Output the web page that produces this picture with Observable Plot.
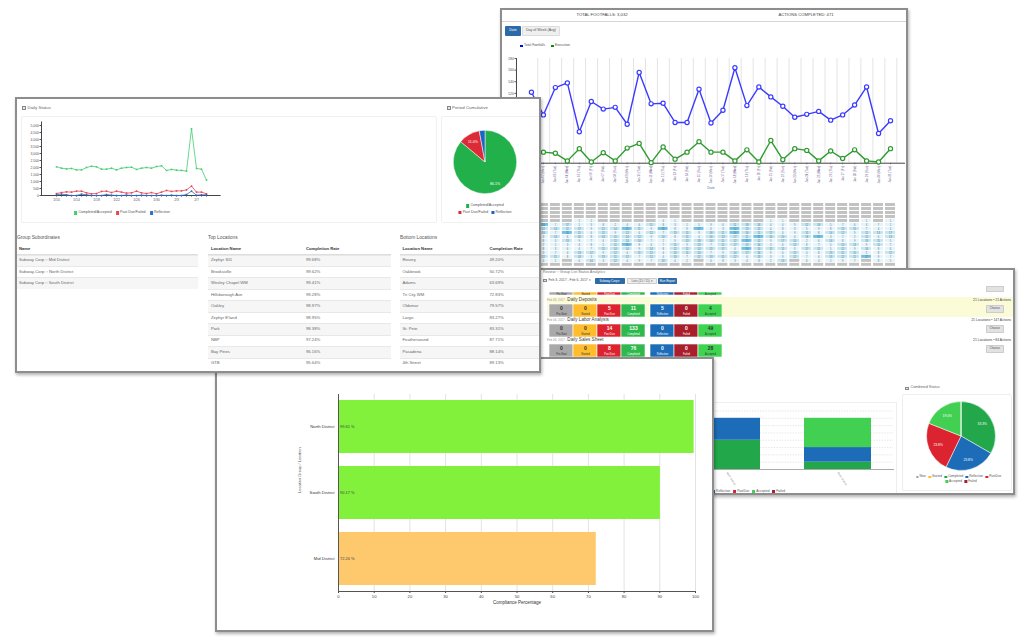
<!DOCTYPE html>
<html><head><meta charset="utf-8">
<script src="https://cdn.jsdelivr.net/npm/d3@7"></script>
<script src="https://cdn.jsdelivr.net/npm/@observablehq/plot@0.6"></script>
<style>
html,body{margin:0;padding:0;background:#fff;}
body{width:1024px;height:637px;position:relative;overflow:hidden;font-family:"Liberation Sans",Arial,sans-serif;}
.panel{position:absolute;background:#fff;border:2px solid #8d8d8d;box-shadow:1px 2px 3px rgba(0,0,0,.3);overflow:hidden;box-sizing:border-box;}
.t{white-space:nowrap;line-height:1;}
</style></head><body>
<script>
// ===================== DATA =====================
// Panel A: footfall line chart
const footDates = ["Jan 01 (Sun)","Jan 02 (Mon)","Jan 03 (Tue)","Jan 04 (Wed)","Jan 05 (Thu)","Jan 06 (Fri)","Jan 07 (Sat)","Jan 08 (Sun)","Jan 09 (Mon)","Jan 10 (Tue)","Jan 11 (Wed)","Jan 12 (Thu)","Jan 13 (Fri)","Jan 14 (Sat)","Jan 15 (Sun)","Jan 16 (Mon)","Jan 17 (Tue)","Jan 18 (Wed)","Jan 19 (Thu)","Jan 20 (Fri)","Jan 21 (Sat)","Jan 22 (Sun)","Jan 23 (Mon)","Jan 24 (Tue)","Jan 25 (Wed)","Jan 26 (Thu)","Jan 27 (Fri)","Jan 28 (Sat)","Jan 29 (Sun)","Jan 30 (Mon)","Jan 31 (Tue)"];
const footfalls = [122,83,130,138,54,106,93,96,67,156,102,103,70,70,127,69,91,164,99,131,114,98,79,84,89,74,83,100,131,51,73];
const execution = [20,19,17,4,25,2,18,4,26,34,1,28,7,19,37,19,19,4,23,2,39,6,25,22,4,21,8,23,4,2,25];
const footYTicks = [0,20,40,60,80,100,120,140,160,180];
const footSeries = ["Total Footfalls","Execution"];
const heatRows = [
"- - - - - - - - - - - - - - - - - - - - - - - - - - - - - - -",
"- - - - - - - - - - - - - - - - - - - - - - - - - - - - - - -",
"- - - - - - - - - - - - - - - - - - - - - - - - - - - - - - -",
"- - - - - - - - - - - - - - - - - - - - - - - - - - - - - - -",
"- - - - 1 2 - - - - - 4 1 - - - - - - - 1 1 - - - - - - 1 - 1",
"11 24 7 17 1 3 8 2 4 6 11 8 3 1 5 9 6 11 18 16 4 4 9 12 16 5 7 6 4 7 1",
"18 12 14 11 17 9 12 14 21 11 9 28 8 9 27 6 3 22 13 12 4 8 3 5 9 8 12 11 7 4 5",
"11 16 7 26 11 6 11 9 12 6 12 7 13 11 9 18 11 26 16 11 17 4 9 11 8 14 12 9 11 13 17",
"9 3 14 6 10 8 14 11 14 12 9 13 8 11 4 16 13 17 11 21 16 10 4 18 21 3 7 2 11 6 13",
"15 8 3 13 9 7 6 11 14 10 7 2 9 13 18 14 11 12 21 12 9 17 10 2 6 14 8 9 13 11 5",
"11 7 1 3 4 8 5 11 26 8 6 7 11 9 13 7 11 17 19 16 3 6 12 8 7 5 10 13 9 11 7",
"13 8 3 6 4 7 11 14 14 9 14 8 12 11 13 15 17 6 24 10 15 11 9 17 11 5 12 9 14 8 6",
"18 3 7 4 13 12 9 12 6 11 12 4 13 11 14 7 9 14 17 16 9 6 12 4 8 13 11 15 5 8 12",
"13 12 11 8 14 3 13 11 12 7 12 4 13 7 12 13 11 12 6 13 3 9 12 7 4 13 12 11 22 9 7",
"20 4 1 - 6 14 3 12 4 9 7 13 4 2 - 6 8 3 4 8 2 13 - 6 4 2 9 7 - 8 5",
"- - - - - - - - - - - - - - - - - - - - - - - - - - - - - - -"
];
const heatHours = ["06","07","08","09","10","11","12","13","14","15","16","17","18","19","20","21"];

// Panel B: daily status
const dsDates = ["1/10","1/11","1/12","1/13","1/14","1/15","1/16","1/17","1/18","1/19","1/20","1/21","1/22","1/23","1/24","1/25","1/26","1/27","1/28","1/29","1/30","1/31","2/1","2/2","2/3","2/4","2/5","2/6","2/7","2/8","2/9"];
const dsXTicks = ["1/10","1/14","1/18","1/22","1/26","1/30","2/3","2/7"];
const dsYTicks = [0,500,1000,1500,2000,2500,3000,3500,4000,4500,5000];
const dsSeries = ["Completed/Accepted","Past Due/Failed","Reflection"];
const dsCompleted = [2050,1950,1900,1930,1830,1830,2000,2090,2050,1880,1880,1950,1830,1950,2000,2020,1860,1950,2000,1950,2070,2120,1790,1860,1810,1790,1740,4760,1930,1880,1100];
const dsPastDue = [140,210,260,240,310,310,190,120,140,290,310,210,310,240,170,190,310,190,140,210,120,240,360,290,330,330,400,670,240,240,120];
const dsReflection = [70,95,50,0,0,95,50,0,0,0,70,20,0,0,30,0,0,20,0,0,0,20,0,20,0,0,70,310,20,50,50];
const periodPct = [86.1, 11.0, 2.9];

const subordinates = ["Subway Corp :: Mid District","Subway-Corp :: North District","Subway Corp :: South District"];
const topNames = ["Zephyr 301","Brooksville","Wesley Chapel WM","Hillsborough Ave","Oakley","Zephyr E'land","Park","NBP","Bay Pines","GTB"];
const topRates = ["99.68%","99.62%","99.41%","99.28%","98.97%","98.95%","98.38%","97.24%","96.16%","95.64%"];
const bottomNames = ["Rosery","Oakbrook","Adams","Tri City WM","Oldsmar","Largo","St. Pete","Feathersound","Pasadena","4th Street"];
const bottomRates = ["49.20%","50.72%","63.69%","72.83%","79.57%","83.27%","83.31%","87.71%","88.14%","89.13%"];

// Panel C: group list status
const tileStatuses = ["Pre-Start","Started","Past Due","Completed","Reflection","Failed","Accepted"];
const reportNames = ["Daily Deposits","Daily Labor Analysis","Daily Sales Sheet"];
const reportCounts = [[0,0,5,11,5,0,4],[0,0,14,133,0,0,49],[0,0,8,76,0,0,28]];
const reportSummary = ["21 Locations • 21 Actions","21 Locations • 147 Actions","21 Locations • 84 Actions"];
const sbGroups = ["North District","South District"];
const sbSeries = ["Completed","Reflection","Accepted"];
const sbValues = [[4,3,0],[1,2,4]];
const sbGrid = [1,2,3,4,5,6,7,8];
const combinedStatuses = ["New","Started","Completed","Reflection","PastDue","Accepted","Failed"];
const combinedPct = [0,0,33.3,23.8,23.8,19.0,0];

// Panel D: compliance
const districts = ["North District","South District","Mid District"];
const compliance = [99.61, 90.17, 72.20];
const compTicks = [0,10,20,30,40,50,60,70,80,90,100];

// ===================== HELPERS =====================
const FONT = '"Liberation Sans", Arial, sans-serif';
function st(fs){return {fontFamily:FONT,fontSize:fs+"px",background:"transparent",overflow:"visible"};}
function panel(x,y,w,h,z){const d=document.createElement('div');d.className='panel';d.style.left=x+'px';d.style.top=y+'px';d.style.width=w+'px';d.style.height=h+'px';d.style.zIndex=z;document.body.appendChild(d);d.ox=x+2;d.oy=y+2;return d;}
function put(p,el,x,y){el.style.position='absolute';el.style.left=(x-p.ox)+'px';el.style.top=(y-p.oy)+'px';p.appendChild(el);return el;}
function box(p,x,y,w,h,css){const e=document.createElement('div');e.style.cssText=`width:${w}px;height:${h}px;box-sizing:border-box;${css||''}`;return put(p,e,x,y);}
function txt(p,s,x,cy,fs,color,anchor,css){const e=document.createElement('div');e.className='t';e.textContent=s;e.style.cssText=`font-size:${fs}px;color:${color};${css||''}`;put(p,e,x,cy-fs/2);if(anchor==='middle')e.style.transform='translateX(-50%)';if(anchor==='end')e.style.transform='translateX(-100%)';return e;}
function legend(p,items,x,cy,fs,anchor,gap){const e=document.createElement('div');e.className='t';e.style.cssText=`display:flex;align-items:center;gap:${gap}px;font-size:${fs}px;color:#555;height:${fs}px`;items.forEach(([label,color])=>{const s=document.createElement('span');s.style.cssText=`display:inline-flex;align-items:center;gap:${fs*0.35}px`;const q=document.createElement('span');q.style.cssText=`display:inline-block;width:${fs*0.85}px;height:${fs*0.85}px;background:${color}`;s.appendChild(q);s.appendChild(document.createTextNode(label));e.appendChild(s);});put(p,e,x,cy-fs/2);if(anchor==='middle')e.style.transform='translateX(-50%)';if(anchor==='end')e.style.transform='translateX(-100%)';return e;}
function icon(p,x,y){box(p,x,y,4,3.5,'border:0.6px solid #888;background:#e4e4e4');}
function pieMark(vals,colors,r,lr,fs,minPct){
  return (index,scales,values,dims)=>{
    const g=d3.create("svg:g").attr("transform",`translate(${dims.width/2},${dims.height/2})`);
    const arcs=d3.pie().sort(null).value(d=>d)(vals);
    const arc=d3.arc().innerRadius(0).outerRadius(r);
    const la=d3.arc().innerRadius(lr).outerRadius(lr);
    g.selectAll("path").data(arcs).join("path").attr("d",arc).attr("fill",(d,i)=>colors[i]).attr("stroke","#fff").attr("stroke-width",0.5);
    g.selectAll("text").data(arcs.filter(a=>a.value>=minPct)).join("text").attr("transform",a=>`translate(${la.centroid(a)})`).attr("text-anchor","middle").attr("dy","0.35em").attr("fill","#fff").attr("font-size",fs).text(a=>a.value.toFixed(1)+"%");
    return g.node();
  };
}

// ===================== PANEL A (footfalls) =====================
const A = panel(500,8,408,262,1);
txt(A,"TOTAL FOOTFALLS: 3,032",602,15,4.2,"#444","middle");
txt(A,"ACTIONS COMPLETED: 471",806,15,4.2,"#444","middle");
box(A,502,20.5,405,1.5,'background:#d6d6d6');
box(A,505,26,16,10,'background:#2d6aa8;border-radius:1px');
txt(A,"Date",513,31,3.6,"#fff","middle");
box(A,522,26,38,10,'background:#f0f0f0;border:0.5px solid #ddd;border-radius:1px');
txt(A,"Day of Week (Avg)",541,31,3.6,"#555","middle");
legend(A,[[footSeries[0],"#0000ff"],[footSeries[1],"#0b8a0b"]],520,46,3.4,'start',6);

const footData = footDates.map((d,i)=>({date:d,foot:footfalls[i],exec:execution[i]}));
put(A, Plot.plot({
  width:405,height:140,marginLeft:14,marginRight:1,marginTop:8,marginBottom:27,
  style:st(3.6),
  x:{type:"point",domain:footDates,padding:0.5},
  y:{domain:[0,180]},
  marks:[
    Plot.ruleX(footDates,{dx:6.3,stroke:"#e4e4e4"}),
    Plot.axisY({ticks:footYTicks,tickSize:1.5,tickPadding:1,label:null,color:"#555"}),
    Plot.frame({anchor:"left",stroke:"#444"}),
    Plot.ruleY([0],{stroke:"#444"}),
    Plot.axisX({tickRotate:-90,tickSize:1.5,tickPadding:1,label:null,fontSize:3,color:"#6a5a8e"}),
    Plot.line(footData,{x:"date",y:"foot",stroke:"#3b3bff",strokeWidth:1.4}),
    Plot.dot(footData,{x:"date",y:"foot",r:2.1,fill:"#fff",stroke:"#3b3bff",strokeWidth:1.2}),
    Plot.line(footData,{x:"date",y:"exec",stroke:"#2f9a2f",strokeWidth:1.4}),
    Plot.dot(footData,{x:"date",y:"exec",r:2.1,fill:"#fff",stroke:"#2f9a2f",strokeWidth:1.2}),
    Plot.text(["Date"],{frameAnchor:"bottom",dy:26,fill:"#5670c0",fontSize:3.5})
  ]
}),502,50);

const heatData = [];
heatRows.forEach((row,i)=>{const tk=row.trim().split(/\s+/);footDates.forEach((d,j)=>{const t=tk[j]??"-";heatData.push({date:d,hour:heatHours[i],v:t==="-"?null:+t});});});
put(A, Plot.plot({
  width:405,height:71,marginLeft:14,marginRight:1,marginTop:4.7,marginBottom:1.7,
  style:st(2.8),
  x:{type:"band",domain:footDates,paddingInner:0.2,paddingOuter:0.1,axis:null},
  y:{type:"band",domain:heatHours,paddingInner:0.14,paddingOuter:0,axis:null},
  color:{type:"threshold",domain:[10,20],range:["#e6f3f9","#c5e5f1","#72c3e3"]},
  marks:[
    Plot.cell(heatData.filter(d=>d.v===null),{x:"date",y:"hour",fill:"#c2c2c2"}),
    Plot.cell(heatData.filter(d=>d.v!==null),{x:"date",y:"hour",fill:"v"}),
    Plot.text(heatData.filter(d=>d.v!==null),{x:"date",y:"hour",text:d=>String(d.v),fill:"#4a7890",fontSize:2.6})
  ]
}),502,198);

// ===================== PANEL C (group list status) =====================
const C = panel(538,268,477,227,2);
txt(C,"Review :: Group List Status Analytics",543,273.3,3.8,"#777");
icon(C,543,278.5);
txt(C,"Feb 3, 2017 - Feb 6, 2017 ▾",548.5,280.8,3.4,"#555");
box(C,595,278.3,30,5.5,'background:#2d6aa8;border-radius:0.8px');
txt(C,"Subway Corp ▾",610,281,3,"#fff","middle");
box(C,627,278.3,30,5.5,'background:#eee;border:0.4px solid #ccc;border-radius:0.8px');
txt(C,"Lists (15 / 15) ▾",642,281,3,"#555","middle");
box(C,658,278.3,19,5.5,'background:#2d6aa8;border-radius:0.8px');
txt(C,"Run Report",667.5,281,3,"#fff","middle");
box(C,986,286,17.5,5.5,'background:#e2e2e2;border:0.4px solid #ccc;border-radius:0.8px');
box(C,547,296.7,466,20.5,'background:#fcfbd8');

const tileColors = ["#a9a9a9","#fdbd2d","#dc2430","#2fb84d","#1c6cb8","#a81e2b","#3fd352"];
const darkText = new Set(["Pre-Start","Started","Accepted"]);
const left4 = new Set(tileStatuses.slice(0,4));
const tileData = reportNames.flatMap((r,i)=>tileStatuses.map((s,j)=>({report:r,status:s,n:reportCounts[i][j]})));
function tileMarks(data, withNumbers){
  const out=[];
  [[true,0],[false,5]].forEach(([isLeft,dx])=>{
    const sub=data.filter(d=>left4.has(d.status)===isLeft);
    out.push(Plot.cell(sub,{x:"status",y:"report",fill:"status",stroke:"#fff",strokeWidth:0.6,dx}));
    [[true,"#333"],[false,"#fff"]].forEach(([dk,col])=>{
      const s2=sub.filter(d=>darkText.has(d.status)===dk);
      if(withNumbers){
        out.push(Plot.text(s2,{x:"status",y:"report",text:d=>String(d.n),dx,dy:-2.6,fill:col,fontSize:5,fontWeight:"bold"}));
        out.push(Plot.text(s2,{x:"status",y:"report",text:"status",dx,dy:3.4,fill:col,fontSize:2.6}));
      } else {
        out.push(Plot.text(s2,{x:"status",y:"report",text:"status",dx,fill:col,fontSize:2.6}));
      }
    });
  });
  return out;
}
const hdrData = tileStatuses.map(s=>({report:"header",status:s}));
put(C, Plot.plot({
  width:179,height:3.8,margin:0,marginRight:5,style:st(2.6),
  x:{type:"band",domain:tileStatuses,paddingInner:0,paddingOuter:0,axis:null},
  y:{type:"band",domain:["header"],padding:0,axis:null},
  color:{domain:tileStatuses,range:tileColors},
  marks:tileMarks(hdrData,false)
}),546,291.6);
put(C, Plot.plot({
  width:179,height:53.3,margin:0,marginRight:5,style:st(3),
  x:{type:"band",domain:tileStatuses,paddingInner:0,paddingOuter:0,axis:null},
  y:{type:"band",domain:reportNames,paddingInner:0.35,paddingOuter:0,axis:null},
  color:{domain:tileStatuses,range:tileColors},
  marks:tileMarks(tileData,true)
}),546,304);
reportNames.forEach((r,i)=>{
  const cy=300.4+20*i;
  const e=txt(C,"",547,cy,4.6,"#444");
  e.innerHTML=`<span style="font-size:3px;color:#999">Feb 06, 2017 - </span>${r}`;
  txt(C,reportSummary[i],1011,cy,3.4,"#444","end");
  box(C,986,304.5+20*i,17.5,8.5,'background:#e2e2e2;border:0.4px solid #ccc;border-radius:0.8px');
  txt(C,"Choose",994.7,308.8+20*i,3,"#555","middle");
});

// stacked bar chart (partly hidden)
box(C,640,402,257,92,'border:0.5px solid #eee');
const sbData = sbGroups.flatMap((g,i)=>sbSeries.map((s,j)=>({group:g,series:s,v:sbValues[i][j]})));
put(C, Plot.plot({
  width:235,height:95,marginLeft:6,marginRight:7,marginTop:5,marginBottom:26,style:st(3),
  x:{type:"band",domain:sbGroups,paddingInner:0.4,paddingOuter:0.2,axis:null},
  y:{domain:[0,8.75],axis:null},
  color:{domain:sbSeries,range:["#22a84a","#1c6cb8","#41d052"]},
  marks:[
    Plot.ruleY(sbGrid,{stroke:"#cfcfcf",strokeDasharray:"1.5,1.2",strokeWidth:0.5}),
    Plot.barY(sbData,{x:"group",y:"v",fill:"series"}),
    Plot.axisX({tickRotate:58,tickSize:0,tickPadding:2.5,label:null,fontSize:2.6,color:"#777"}),
    Plot.frame({anchor:"bottom",stroke:"#aaa"})
  ]
}),665,400);
legend(C,[["Completed","#22a84a"],["Reflection","#1c6cb8"],["PastDue","#dc2430"],["Accepted","#41d052"],["Failed","#a81e2b"]],785,491.3,3.2,'end',3);

// combined status pie
icon(C,905,386.5);
txt(C,"Combined Status",910.5,388.3,3.8,"#666");
box(C,902,394,110,97,'border:0.6px solid #eee;border-radius:2px');
const combinedColors = ["#9e9e9e","#fdbd2d","#22a84a","#1c6cb8","#dc2430","#41d052","#a81e2b"];
put(C, Plot.plot({width:80,height:80,margin:0,style:st(3.3),marks:[pieMark(combinedPct,combinedColors,34.5,24.5,3.3,5)]}),920.8,395.5);
legend(C,combinedStatuses.slice(0,5).map((s,i)=>[s,combinedColors[i]]),958.5,477,3.1,'middle',2.5);
legend(C,combinedStatuses.slice(5).map((s,i)=>[s,combinedColors[i+5]]),961,481.5,3.1,'middle',2.5);

// ===================== PANEL D (compliance bars) =====================
const D = panel(215,357,499,275,3);
const compData = districts.map((d,i)=>({name:d,pct:compliance[i]}));
put(D, Plot.plot({
  width:490,height:225,marginLeft:118,marginRight:15,marginTop:9,marginBottom:19,
  style:st(4.2),
  x:{domain:[0,100]},
  y:{type:"band",domain:districts,paddingInner:0.2,paddingOuter:0.09},
  color:{type:"threshold",domain:[80],range:["#fec86d","#82f13b"]},
  marks:[
    Plot.gridX(compTicks,{stroke:"#e3e3e3",strokeOpacity:1}),
    Plot.barX(compData,{x:"pct",y:"name",fill:"pct"}),
    Plot.text(compData,{x:0,y:"name",text:d=>d.pct.toFixed(2)+" %",textAnchor:"start",dx:1.5,fill:"#444",fontSize:4}),
    Plot.axisX({ticks:compTicks,tickSize:2,tickPadding:1.5,label:null,color:"#444"}),
    Plot.frame({anchor:"bottom",stroke:"#555"}),
    Plot.frame({anchor:"left",stroke:"#555"}),
    Plot.axisY({tickSize:0,tickPadding:4,label:null,color:"#333"}),
    Plot.text(["Location Group / Location"],{frameAnchor:"left",dx:-38.5,rotate:-90,fill:"#555",fontSize:4}),
    Plot.text(["Compliance Percentage"],{frameAnchor:"bottom",dy:12.5,fill:"#333",fontSize:4.5})
  ]
}),220,385);

// ===================== PANEL B (daily status) =====================
const B = panel(15,97,526,276,4);
icon(B,21.7,106.3);
txt(B,"Daily Status",27.5,108.2,4.4,"#666");
icon(B,446.5,106.3);
txt(B,"Period Cumulative",452,108.2,4.4,"#666");
box(B,21,116,416,107,'border:0.6px solid #f0f0f0;border-radius:2px');
box(B,441,116,110,107,'border:0.6px solid #f0f0f0;border-radius:2px');

const dsData = dsSeries.flatMap((s,k)=>dsDates.map((d,i)=>({date:d,series:s,v:[dsCompleted,dsPastDue,dsReflection][k][i]})));
const dsColors = ["#43cd6e","#e84452","#2f6fd1"];
put(B, Plot.plot({
  width:205,height:92,marginLeft:19,marginRight:6.4,marginTop:3.5,marginBottom:15,
  style:st(3.4),
  x:{type:"point",domain:dsDates,padding:0.4},
  y:{domain:[0,5250]},
  color:{domain:dsSeries,range:dsColors},
  marks:[
    Plot.axisY({ticks:dsYTicks,tickSize:1.5,tickPadding:1,label:null,color:"#555"}),
    Plot.frame({anchor:"left",stroke:"#444"}),
    Plot.ruleY([0],{stroke:"#444"}),
    Plot.axisX({ticks:dsDates,tickSize:1.5,tickFormat:()=>"",label:null,color:"#444"}),
    Plot.axisX({ticks:dsXTicks,tickSize:0,tickPadding:3,label:null,color:"#555"}),
    Plot.line(dsData,{x:"date",y:"v",stroke:"series",strokeWidth:0.8}),
    Plot.dot(dsData,{x:"date",y:"v",fill:"series",symbol:"square",r:0.9})
  ]
}),22,118);
legend(B,dsSeries.map((s,i)=>[s,dsColors[i]]),122,213,3.6,'middle',4);

const periodColors = ["#22b04b","#dc2b36","#1c64c4"];
put(B, Plot.plot({width:80,height:80,margin:0,style:st(3.6),marks:[pieMark(periodPct,periodColors,31.7,24,3.6,5)]}),445,121.7);
legend(B,[[dsSeries[0],periodColors[0]]],485,206,3.6,'middle',3);
legend(B,[[dsSeries[1],periodColors[1]],[dsSeries[2],periodColors[2]]],485,212.3,3.6,'middle',3);

function table(p,title,x0,x1,cols,headers,rows){
  txt(p,title,x0,238,4.8,"#555");
  headers.forEach((h,k)=>txt(p,h,cols[k],249,4.2,"#333","start","font-weight:bold"));
  box(p,x0,254,x1-x0,0.8,'background:#ddd');
  rows.forEach((r,i)=>{
    const top=254.5+11.45*i;
    box(p,x0,top,x1-x0,11.45,(i%2===0?'background:#f6f6f6;':'')+'border-top:0.5px solid #e8e8e8');
    r.forEach((c,k)=>txt(p,c,cols[k],top+5.9,4.2,"#666"));
  });
}
table(B,"Group Subordinates",17,198,[19],["Name"],subordinates.map(s=>[s]));
table(B,"Top Locations",208,391,[211,306],["Location Name","Completion Rate"],topNames.map((n,i)=>[n,topRates[i]]));
table(B,"Bottom Locations",400,545,[402.5,489.5],["Location Name","Completion Rate"],bottomNames.map((n,i)=>[n,bottomRates[i]]));
</script>
</body></html>
